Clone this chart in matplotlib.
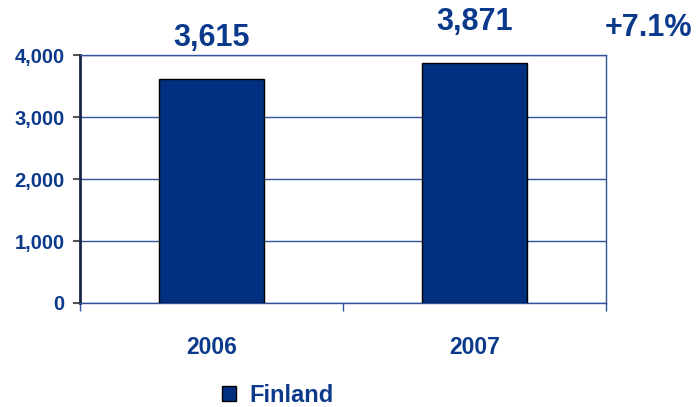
import matplotlib
matplotlib.use("Agg")
import matplotlib.pyplot as plt

# revenue per year
years = ["2006", "2007"]
values = [3615, 3871]
series_name = "Finland"
growth_label = "+7.1%"
y_ticks = [0, 1000, 2000, 3000, 4000]

bar_color = "#00307f"
text_color = "#0b3a8c"
grid_color = "#2f529a"

plt.rcParams["font.family"] = ["Liberation Sans", "DejaVu Sans"]
plt.rcParams["font.weight"] = "bold"

fig = plt.figure(figsize=(6.96, 4.07), dpi=100)
ax = fig.add_axes([80 / 696, 104 / 407, 526 / 696, 248 / 407])

x = list(range(len(years)))
bars = ax.bar(x, values, width=0.40, color=bar_color, edgecolor="black",
              linewidth=1.0, label=series_name, zorder=3)

ax.set_xlim(-0.5, len(years) - 0.5)
ax.set_ylim(0, 4000)
ax.set_yticks(y_ticks)
ax.set_yticklabels([f"{v:,}" for v in y_ticks])
ax.yaxis.grid(True, color=grid_color, linewidth=1.0, zorder=0)

# category labels centred, tick marks at the boundaries
ax.set_xticks(x)
ax.set_xticklabels(years)
ax.set_xticks([i - 0.5 for i in range(len(years) + 1)], minor=True)
ax.tick_params(axis="x", which="major", length=0, pad=24,
               labelsize=16.5, labelcolor=text_color)
ax.tick_params(axis="x", which="minor", length=6, width=1, color=grid_color,
               direction="out")
ax.tick_params(axis="y", length=5, width=1.5, color="#555555", pad=6,
               labelsize=14.5, labelcolor=text_color)

for side in ["top", "right", "bottom"]:
    ax.spines[side].set_color(grid_color)
    ax.spines[side].set_linewidth(1.0)
ax.spines["left"].set_color("#17264a")
ax.spines["left"].set_linewidth(2.0)

for rect, v in zip(bars, values):
    ax.annotate(f"{v:,}", (rect.get_x() + rect.get_width() / 2, v),
                xytext=(0, 29.5), textcoords="offset points",
                ha="center", va="center", fontsize=22, color=text_color,
                fontweight="bold", annotation_clip=False)

fig.text(648 / 696, 1 - 28 / 407, growth_label, ha="center", va="center",
         fontsize=22, color=text_color, fontweight="bold")

fig.legend(handles=[bars], labels=[series_name], loc="center left",
           bbox_to_anchor=(222 / 696, 1 - 395 / 407), frameon=False,
           borderpad=0, borderaxespad=0,
           handlelength=0.6, handleheight=0.6, handletextpad=0.55,
           prop={"size": 17, "weight": "bold"}, labelcolor=text_color)

fig.savefig("out.png", dpi=100)
